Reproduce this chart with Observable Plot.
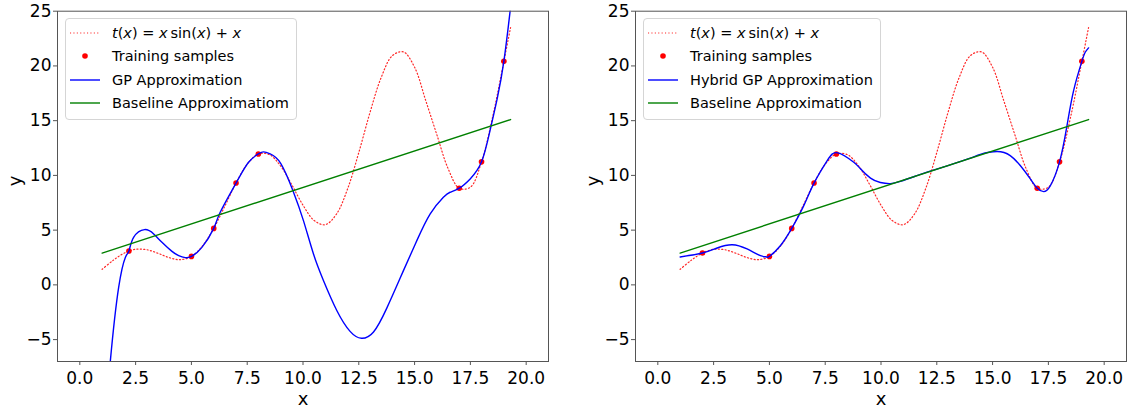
<!DOCTYPE html>
<html><head><meta charset="utf-8">
<script src="https://cdn.jsdelivr.net/npm/d3@7"></script>
<script src="https://cdn.jsdelivr.net/npm/@observablehq/plot@0.6"></script>
<style>
body{margin:0;background:#fff;font-family:"DejaVu Sans",sans-serif;}
#wrap{position:relative;width:1129px;height:413px;display:flex;}
.panel{position:relative;flex:none;}
.panel svg{display:block;}
.legend{position:absolute;top:18px;left:65px;background:rgba(255,255,255,0.8);border:1px solid #d5d5d5;border-radius:4px;padding:2px 7px 4px 4px;font-size:14.5px;color:#000;}
.row{display:flex;align-items:center;height:23.5px;white-space:nowrap;}
.row svg{margin-right:12px;flex:none;}
</style></head><body><div id="wrap"></div>
<script>
// True function t(x)
const tX = [1.0,1.5,2.0,2.5,3.0,3.5,4.0,4.5,5.0,5.5,6.0,6.5,7.0,7.5,8.0,8.5,9.0,9.5,10.0,10.5,11.0,11.5,12.0,12.5,13.0,13.5,14.0,14.5,15.0,15.5,16.0,16.5,17.0,17.5,18.0,18.5,19.0,19.3];
const tY = [1.42,2.25,2.91,3.25,3.21,2.89,2.49,2.30,2.60,3.56,5.16,7.20,9.30,11.02,11.96,11.89,10.85,9.14,7.28,5.88,5.50,6.47,8.78,12.09,15.73,18.93,20.93,21.28,19.88,16.83,13.70,10.63,8.83,8.92,11.24,15.37,20.42,23.50];

// Training samples
const sampleX1 = [2.2,5,6,7,8,17,18,19];
const sampleY1 = [3.09,2.60,5.16,9.30,11.96,8.83,11.24,20.42];
const sampleX2 = [2,5,6,7,8,17,18,19];
const sampleY2 = [2.91,2.60,5.16,9.30,11.96,8.83,11.24,20.42];

// GP approximation (left)
const gpX1 = [1.0,1.37,1.74,2.04,2.2,2.41,2.9,3.31,3.68,4.13,4.43,4.72,5.0,5.47,6.0,6.29,7.0,7.56,8.0,8.23,8.53,9.0,9.55,10.02,10.47,10.92,11.52,12.11,12.62,13.16,13.76,14.5,15.1,15.7,16.29,16.59,17.0,17.49,18.0,18.38,18.7,19.0,19.28,19.45];
const gpY1 = [-16,-6.9,-0.23,2.51,3.09,4.34,5.05,4.65,3.89,3.06,2.67,2.49,2.6,3.43,5.16,6.63,9.3,11.2,11.96,12.15,11.96,11.1,8.6,5.87,2.82,0.38,-2.36,-4.25,-4.88,-4.3,-2.1,1.3,4.04,6.48,8.0,8.46,8.83,9.68,11.24,14.1,17.0,20.42,25,28];

// Hybrid GP approximation (right)
const hgpX2 = [1.0,2.0,2.66,3.33,4.0,4.6,4.87,5.0,5.49,6.0,6.54,7.0,7.59,8.06,8.78,9.08,9.53,9.97,10.42,10.87,11.5,12.06,13.0,14.0,14.45,15.2,15.79,16.24,16.69,17.0,17.29,17.59,18.0,18.33,18.63,19.0,19.15,19.3];
const hgpY2 = [2.55,2.91,3.37,3.67,3.28,2.67,2.55,2.6,3.58,5.16,7.24,9.3,11.35,12.06,11.2,10.6,9.75,9.35,9.25,9.45,9.9,10.3,10.9,11.57,11.92,12.18,11.81,10.9,9.68,8.83,8.52,9.07,11.24,14.5,17.75,20.42,21.25,21.65];

// Baseline approximation
const baseX = [1.0,19.3];
const baseY = [2.9,15.1];

const xTicks = [0,2.5,5,7.5,10,12.5,15,17.5,20];
const yTicks = [-5,0,5,10,15,20,25];
const xLabel = "x", yLabel = "y";
const legend1 = ["Training samples","GP Approximation","Baseline Approximatiom"];
const legend2 = ["Training samples","Hybrid GP Approximation","Baseline Approximation"];
const mathLabel = '<i>t</i>(<i>x</i>) = <i>x</i>&#8201;sin(<i>x</i>) + <i>x</i>';

const zip = (xs, ys) => xs.map((x, i) => ({x, y: ys[i]}));

function panel(width, marginRight, gpX, gpY, sX, sY) {
  return Plot.plot({
    width, height: 413, marginLeft: 57, marginRight, marginTop: 10.7, marginBottom: 52,
    style: {fontFamily: "DejaVu Sans", fontSize: "17px", color: "#000", background: "transparent", overflow: "visible"},
    x: {domain: [-1, 21]},
    y: {domain: [-7, 25]},
    marks: [
      Plot.line(zip(tX, tY), {x: "x", y: "y", stroke: "red", strokeWidth: 1.2, strokeOpacity: 0.85, strokeDasharray: "1.1,2.3", curve: "catmull-rom"}),
      Plot.dot(zip(sX, sY), {x: "x", y: "y", r: 2.8, fill: "red"}),
      Plot.line(zip(gpX, gpY), {x: "x", y: "y", stroke: "blue", strokeWidth: 1.4, curve: "natural", clip: true}),
      Plot.line(zip(baseX, baseY), {x: "x", y: "y", stroke: "green", strokeWidth: 1.4}),
      Plot.frame({stroke: "#555"}),
      Plot.axisX({ticks: xTicks, tickFormat: d => d.toFixed(1), tickSize: 4, tickPadding: 6, label: null, stroke: "#555", fill: "#000"}),
      Plot.axisY({ticks: yTicks, tickFormat: d => d < 0 ? "\u2212" + Math.abs(d) : String(d), tickSize: 4, tickPadding: 2, label: null, stroke: "#555", fill: "#000"}),
      Plot.text([xLabel], {text: d => d, frameAnchor: "bottom", dy: 43, fontSize: 18}),
      Plot.text([yLabel], {text: d => d, frameAnchor: "left", dx: -42, rotate: -90, fontSize: 18})
    ]
  });
}

function handle(kind) {
  if (kind === "true") return '<svg width="30" height="10"><line x1="0" x2="30" y1="5" y2="5" stroke="red" stroke-opacity="0.85" stroke-width="1.2" stroke-dasharray="1.1,2.3"/></svg>';
  if (kind === "dot") return '<svg width="30" height="10"><circle cx="15" cy="5" r="2.8" fill="red"/></svg>';
  return '<svg width="30" height="10"><line x1="0" x2="30" y1="5" y2="5" stroke="' + kind + '" stroke-width="1.4"/></svg>';
}

function legendHTML(labels) {
  const kinds = ["dot", "blue", "green"];
  let h = '<div class="row">' + handle("true") + '<span>' + mathLabel + '</span></div>';
  labels.forEach((l, i) => { h += '<div class="row">' + handle(kinds[i]) + '<span>' + l + '</span></div>'; });
  return h;
}

const wrap = document.getElementById("wrap");
[[578, 30, gpX1, gpY1, sampleX1, sampleY1, legend1], [551, 3, hgpX2, hgpY2, sampleX2, sampleY2, legend2]].forEach(([w, mr, gx, gy, sx, sy, lg]) => {
  const div = document.createElement("div");
  div.className = "panel";
  div.style.width = w + "px";
  div.appendChild(panel(w, mr, gx, gy, sx, sy));
  const leg = document.createElement("div");
  leg.className = "legend";
  leg.innerHTML = legendHTML(lg);
  div.appendChild(leg);
  wrap.appendChild(div);
});
</script></body></html>
